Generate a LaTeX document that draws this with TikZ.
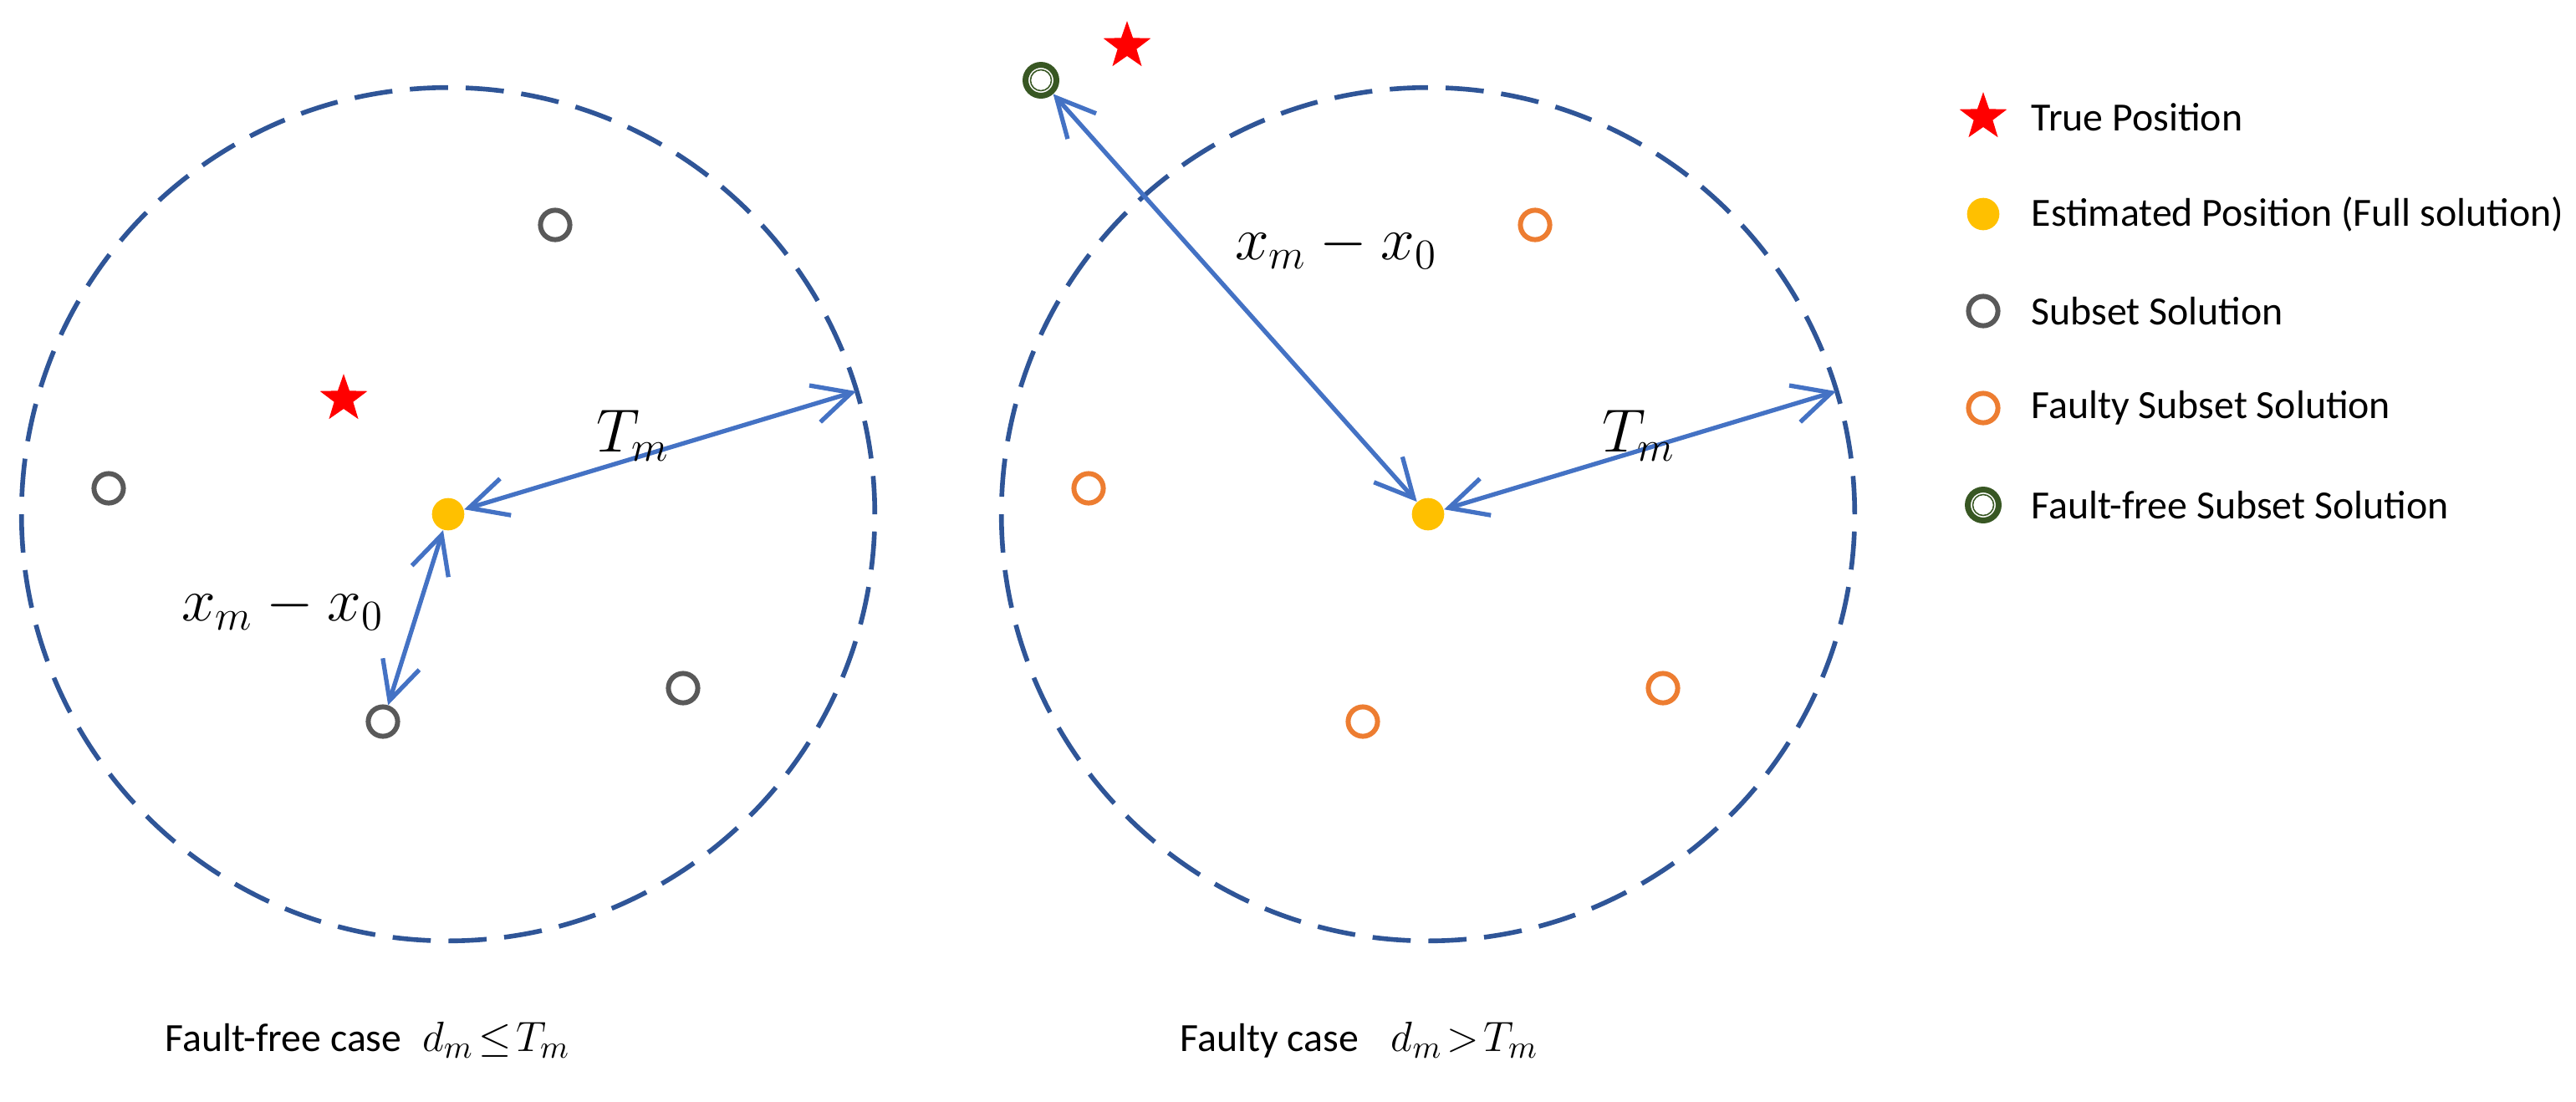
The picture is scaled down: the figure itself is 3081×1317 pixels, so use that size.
\documentclass[tikz,border=0pt]{standalone}
\usepackage{fontspec}
\setmainfont{Carlito}
\usetikzlibrary{shapes.geometric,arrows.meta}
\definecolor{ringblue}{RGB}{47,85,151}
\definecolor{arrowblue}{RGB}{68,114,196}
\definecolor{estyellow}{RGB}{255,192,0}
\definecolor{subgray}{RGB}{89,89,89}
\definecolor{faultorange}{RGB}{237,125,49}
\definecolor{freegreen}{RGB}{56,87,35}

\begin{document}
\begin{tikzpicture}[x=0.01cm, y=-0.01cm,
    ring/.style={draw=ringblue, line width=1.6pt, dash pattern=on 13pt off 6pt},
    est/.style={circle, fill=estyellow, inner sep=0pt, minimum size=11pt},
    truepos/.style={star, star points=5, star point ratio=2.5, fill=red, inner sep=0pt, minimum size=17pt},
    subsol/.style={circle, draw=subgray, line width=1.7pt, inner sep=0pt, minimum size=10pt},
    faultsol/.style={subsol, draw=faultorange},
    freesol/.style={circle, draw=freegreen, line width=2pt, inner sep=0pt, minimum size=10.5pt},
    dist/.style={draw=arrowblue, line width=1.5pt, {Straight Barb[length=13pt,width=13pt]}-{Straight Barb[length=13pt,width=13pt]}},
    lbl/.style={font=\fontsize{13.6}{16}\selectfont, anchor=west, inner sep=0pt},
    mathlbl/.style={font=\fontsize{22}{26}\selectfont, inner sep=0pt}]

    \useasboundingbox (0,0) rectangle (3081,1317);

    \draw[ring] (536,615) circle[radius=5.1cm];
    \draw[ring] (1708,615) circle[radius=5.1cm];

    \node[est] (estL) at (536,615) {};
    \node[est] (estR) at (1708,615) {};
    \node[truepos] (trueL) at (411,477) {};
    \node[truepos] (trueR) at (1348,55) {};
    \node[freesol] (freeR) at (1245,96) {};
    \draw[freegreen, line width=0.45pt] (freeR) circle[radius=0.125cm];

    \foreach \px/\py [count=\i] in {664/269, 130/584, 817/823, 458/863} {
        \node[subsol] (subL\i) at (\px,\py) {};
        \node[faultsol] (subR\i) at (\px+1172,\py) {};
    }

    \coordinate (edgeL) at (1024,468);
    \coordinate (edgeR) at (2196,468);
    \draw[dist] (estL) -- (edgeL);
    \draw[dist] (estR) -- (edgeR);
    \draw[dist] (estL) -- (subL4);
    \draw[dist] (estR) -- (freeR);

    \node[mathlbl] (tmL) at (757,521) {$T_m$};
    \node[mathlbl] (tmR) at (1960,521) {$T_m$};
    \node[mathlbl] (dxL) at (338,727) {$x_m - x_0$};
    \node[mathlbl] (dxR) at (1598,295) {$x_m - x_0$};

    \node[lbl] (capL) at (197,1244) {Fault-free case\hspace{7pt}{\fontsize{15}{18}\selectfont$d_m\mkern2mu{\leq}\mkern2mu T_m$}};
    \node[lbl] (capR) at (1411,1244) {Faulty case\hspace{11pt}{\fontsize{15}{18}\selectfont$d_m\mkern2mu{>}\mkern2mu T_m$}};

    \foreach \sty/\txt [count=\i] in {truepos/True Position, est/Estimated Position (Full solution), subsol/Subset Solution, faultsol/Faulty Subset Solution, freesol/Fault-free Subset Solution} {
        \node[\sty] (key\i) at (2372,{140+116*(\i-1)}) {};
        \node[lbl] (keytext\i) at (2429,{140+116*(\i-1)}) {\txt};
    }
    \draw[freegreen, line width=0.45pt] (key5) circle[radius=0.125cm];
\end{tikzpicture}
\end{document}
